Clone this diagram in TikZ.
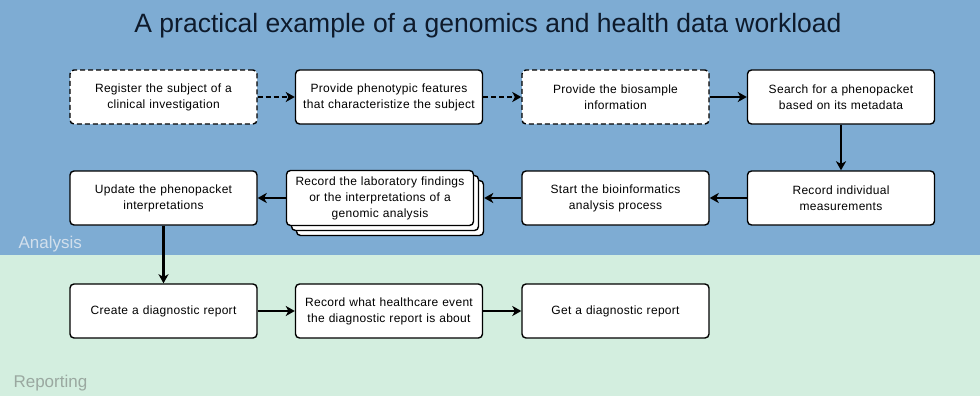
\documentclass[tikz,border=0pt]{standalone}
\usepackage{fontspec}
\setmainfont{Liberation Sans}
\newfontfamily\boxfont[LetterSpace=2.5]{Liberation Sans}
\usetikzlibrary{arrows.meta,shadows}
\definecolor{analysisblue}{HTML}{7EACD3}
\definecolor{reportgreen}{HTML}{D3EEDF}
\definecolor{titleink}{HTML}{0E1A2B}
\definecolor{analysisink}{HTML}{D2DFEC}
\definecolor{reportink}{HTML}{9AA8A0}
\tikzset{
  task/.style={draw, fill=white, rounded corners=4pt, line width=1.4pt,
    minimum width=187pt, minimum height=54pt, text width=184pt, inner xsep=1.5pt,
    align=center, font=\boxfont\fontsize{12}{16}\selectfont},
  optional/.style={task, dash pattern=on 5pt off 3pt},
  flow/.style={-{Stealth[length=9pt,width=10pt,inset=2.5pt]}, line width=2.1pt},
  maybe/.style={flow, dash pattern=on 5pt off 3pt},
  lane/.style={font=\fontsize{17}{19}\selectfont, anchor=base west}
}
\begin{document}
\begin{tikzpicture}[x=1pt,y=-1pt]
\useasboundingbox (0,0) rectangle (980,396);
% swim lanes
\fill[analysisblue] (0,0) rectangle (980,255);
\fill[reportgreen] (0,255) rectangle (980,396);
\node[lane, text=analysisink] (analysis) at (15,248) {Analysis};
\node[lane, text=reportink] (reporting) at (10,387) {Reporting};
\node[text=titleink, font=\fontsize{26.5}{30}\selectfont] (title) at (488,26)
  {A practical example of a genomics and health data workload};

% first row
\node[optional] (register) at (163.5,97) {Register the subject of a\\clinical investigation};
\node[task] (phenotype) at (389,97) {Provide phenotypic features\\that characteristize the subject};
\node[optional] (biosample) at (615.5,97) {Provide the biosample\\information};
\node[task] (search) at (841,97) {Search for a phenopacket\\based on its metadata};

% second row
\node[task] (measure) at (841,198) {Record individual\\measurements};
\node[task] (start) at (615.5,198) {Start the bioinformatics\\analysis process};
\node[task, minimum width=186pt, minimum height=55pt,
  double copy shadow={shadow xshift=5pt, shadow yshift=-5pt, fill=white, draw=black, line width=1.4pt}]
  (findings) at (380,198) {Record the laboratory findings\\or the interpretations of a\\genomic analysis};
\node[task] (update) at (163.5,198) {Update the phenopacket\\interpretations};

% reporting row
\node[task] (diagnostic) at (163.5,311) {Create a diagnostic report};
\node[task] (event) at (389,311) {Record what healthcare event\\the diagnostic report is about};
\node[task] (report) at (615.5,311) {Get a diagnostic report};

\draw[maybe] (register.east) -- (phenotype.west);
\draw[maybe] (phenotype.east) -- (biosample.west);
\draw[flow] (biosample.east) -- (search.west);
\draw[flow] (search) -- (measure);
\draw[flow] (measure.west) -- (start.east);
\draw[flow] (start.west) -- ([xshift=10pt]findings.east);
\draw[flow] (findings.west) -- (update.east);
\draw[flow] (update) -- (diagnostic);
\draw[flow] (diagnostic.east) -- (event.west);
\draw[flow] (event.east) -- (report.west);
\end{tikzpicture}
\end{document}
